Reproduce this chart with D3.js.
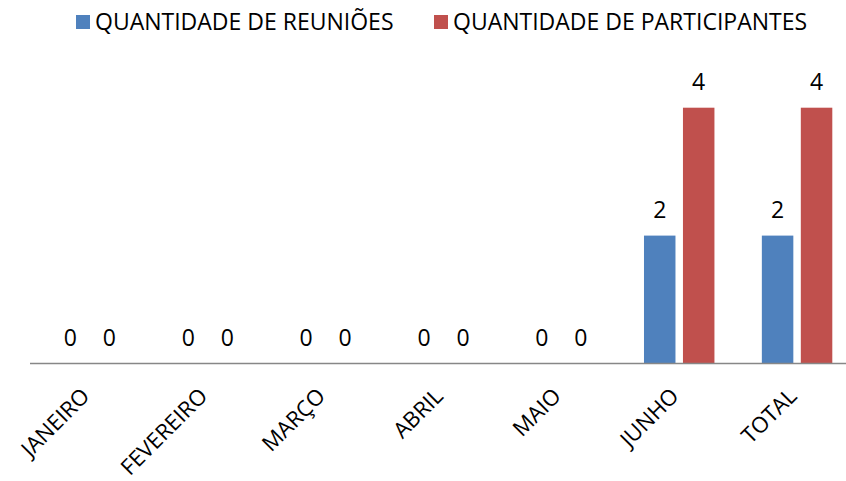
<!DOCTYPE html>
<html>
<head>
<meta charset="utf-8">
<script src="https://cdn.jsdelivr.net/npm/d3@7"></script>
<style>
  body { margin: 0; background: #fff; }
  svg { display: block; font-family: "Open Sans", "Liberation Sans", sans-serif; }
</style>
</head>
<body>
<div id="chart"></div>
<script>
// Chart values
const categories = ['JANEIRO', 'FEVEREIRO', 'MARÇO', 'ABRIL', 'MAIO', 'JUNHO', 'TOTAL'];
const seriesNames = ['QUANTIDADE DE REUNIÕES', 'QUANTIDADE DE PARTICIPANTES'];
const reunioes = [0, 0, 0, 0, 0, 2, 2];
const participantes = [0, 0, 0, 0, 0, 4, 4];

const colours = ['#4F81BD', '#C0504D'];

const width = 846, height = 481;

const svg = d3.select('#chart')
    .append('svg')
    .attr('width', width)
    .attr('height', height);

// rows for the grouped bars
const rows = categories.map((c, i) => ({
    category: c,
    values: [reunioes[i], participantes[i]]
}));

// plot area runs a bit past the right edge, like the original
const x0 = d3.scaleBand()
    .domain(categories)
    .range([31, 856])
    .padding(0);

const x1 = d3.scaleBand()
    .domain(d3.range(seriesNames.length))
    .range([23.7, x0.bandwidth() - 23.7])
    .paddingInner(0.192);

const y = d3.scaleLinear()
    .domain([0, 4])
    .range([363.5, 107.7]);

const groups = svg.selectAll('g.cat')
    .data(rows)
    .enter()
    .append('g')
    .attr('class', 'cat')
    .attr('transform', d => `translate(${x0(d.category)},0)`);

groups.selectAll('rect')
    .data(d => d.values.map((v, k) => ({ k: k, v: v })))
    .enter()
    .append('rect')
    .attr('x', d => x1(d.k))
    .attr('width', x1.bandwidth())
    .attr('y', d => y(d.v))
    .attr('height', d => y(0) - y(d.v))
    .attr('fill', d => colours[d.k]);

// data labels
groups.selectAll('text.val')
    .data(d => d.values.map((v, k) => ({ k: k, v: v })))
    .enter()
    .append('text')
    .attr('class', 'val')
    .attr('x', d => x1(d.k) + x1.bandwidth() / 2)
    .attr('y', d => y(d.v) - 18)
    .attr('text-anchor', 'middle')
    .style('font-size', '23px')
    .style('fill', '#000')
    .text(d => d.v);

// baseline
svg.append('line')
    .attr('x1', x0.range()[0] - 1)
    .attr('x2', x0.range()[1])
    .attr('y1', y(0))
    .attr('y2', y(0))
    .attr('stroke', '#878787')
    .attr('stroke-width', 1.5);

// rotated category labels
svg.selectAll('text.cat')
    .data(categories)
    .enter()
    .append('text')
    .attr('class', 'cat')
    .attr('text-anchor', 'end')
    .attr('transform', d => `translate(${x0(d) + x0.bandwidth() / 2 + 1},${y(0) + 34}) rotate(-45)`)
    .style('font-size', '22px')
    .style('fill', '#000')
    .text(d => d);

// legend
const legendX = [76, 434];
const legend = svg.selectAll('g.legend')
    .data(seriesNames)
    .enter()
    .append('g')
    .attr('class', 'legend')
    .attr('transform', (d, i) => `translate(${legendX[i]},15)`);

legend.append('rect')
    .attr('width', 14)
    .attr('height', 14)
    .attr('fill', (d, i) => colours[i]);

legend.append('text')
    .attr('x', 19)
    .attr('y', 15)
    .style('font-size', '23px')
    .style('fill', '#000')
    .text(d => d);
</script>
</body>
</html>
